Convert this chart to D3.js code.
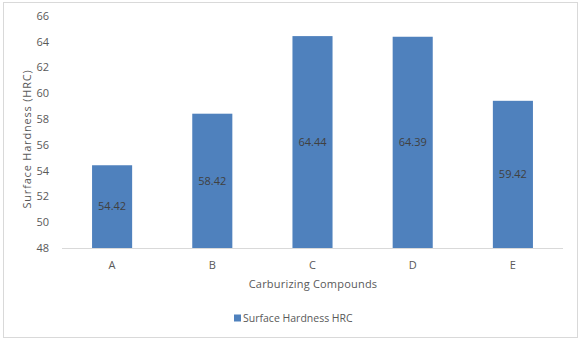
<!DOCTYPE html>
<html>
<head>
<meta charset="utf-8">
<script src="https://cdn.jsdelivr.net/npm/d3@7"></script>
<style>
  body { margin: 0; background: #fff; }
  text { font-family: "Open Sans", "Liberation Sans", sans-serif; }
</style>
</head>
<body>
<div id="chart"></div>
<script>
const categories = ["A", "B", "C", "D", "E"]
const hardness = [54.42, 58.42, 64.44, 64.39, 59.42]
const yTicks = [48, 50, 52, 54, 56, 58, 60, 62, 64, 66]
const seriesName = "Surface Hardness HRC"

const width = 581, height = 341
const margin = {top: 16, right: 18, bottom: 93, left: 62}

const svg = d3.select("#chart").append("svg")
    .attr("width", width)
    .attr("height", height)

// outer frame
svg.append("rect")
    .attr("x", 3.5).attr("y", 2.5)
    .attr("width", 574).attr("height", 335)
    .attr("fill", "#fff")
    .attr("stroke", "#d9d9d9")

const x = d3.scaleBand()
    .domain(categories)
    .range([margin.left, width - margin.right])
    .paddingInner(0.6)
    .paddingOuter(0.3)

const y = d3.scaleLinear()
    .domain([48, 66])
    .range([height - margin.bottom, margin.top])

const plotBottom = height - margin.bottom

// y axis labels
svg.append("g")
    .selectAll("text")
    .data(yTicks)
    .join("text")
    .attr("x", 49)
    .attr("y", d => y(d))
    .attr("dy", "0.35em")
    .attr("text-anchor", "end")
    .attr("font-size", 11)
    .attr("fill", "#595959")
    .text(d => d)

// bars
svg.append("g")
    .selectAll("rect")
    .data(hardness)
    .join("rect")
    .attr("x", (d, i) => x(categories[i]))
    .attr("y", d => y(d))
    .attr("width", x.bandwidth())
    .attr("height", d => plotBottom - y(d))
    .attr("fill", "#4f81bd")

// value labels
svg.append("g")
    .selectAll("text")
    .data(hardness)
    .join("text")
    .attr("x", (d, i) => x(categories[i]) + x.bandwidth() / 2)
    .attr("y", d => (y(d) + plotBottom) / 2)
    .attr("dy", "0.35em")
    .attr("text-anchor", "middle")
    .attr("font-size", 11)
    .attr("fill", "#404040")
    .text(d => d.toFixed(2))

// baseline
svg.append("line")
    .attr("x1", margin.left).attr("x2", width - margin.right)
    .attr("y1", plotBottom + 0.5).attr("y2", plotBottom + 0.5)
    .attr("stroke", "#d9d9d9")

// x axis labels
svg.append("g")
    .selectAll("text")
    .data(categories)
    .join("text")
    .attr("x", d => x(d) + x.bandwidth() / 2)
    .attr("y", 265)
    .attr("dy", "0.35em")
    .attr("text-anchor", "middle")
    .attr("font-size", 11)
    .attr("fill", "#595959")
    .text(d => d)

// axis titles
svg.append("text")
    .attr("x", 313).attr("y", 284)
    .attr("dy", "0.35em")
    .attr("text-anchor", "middle")
    .attr("font-size", 11)
    .attr("fill", "#595959")
    .attr("letter-spacing", "0.2px")
    .text("Carburizing Compounds")

svg.append("text")
    .attr("transform", "translate(27,139) rotate(-90)")
    .attr("dy", "0.35em")
    .attr("text-anchor", "middle")
    .attr("font-size", 11)
    .attr("fill", "#595959")
    .attr("letter-spacing", "0.8px")
    .text("Surface Hardness (HRC)")

// legend
const legend = svg.append("g").attr("transform", "translate(234,318)")
legend.append("rect")
    .attr("x", 0).attr("y", -3.5)
    .attr("width", 7).attr("height", 7)
    .attr("fill", "#4f81bd")
legend.append("text")
    .attr("x", 9).attr("y", 0)
    .attr("dy", "0.35em")
    .attr("font-size", 10.5)
    .attr("fill", "#595959")
    .text(seriesName)
</script>
</body>
</html>
